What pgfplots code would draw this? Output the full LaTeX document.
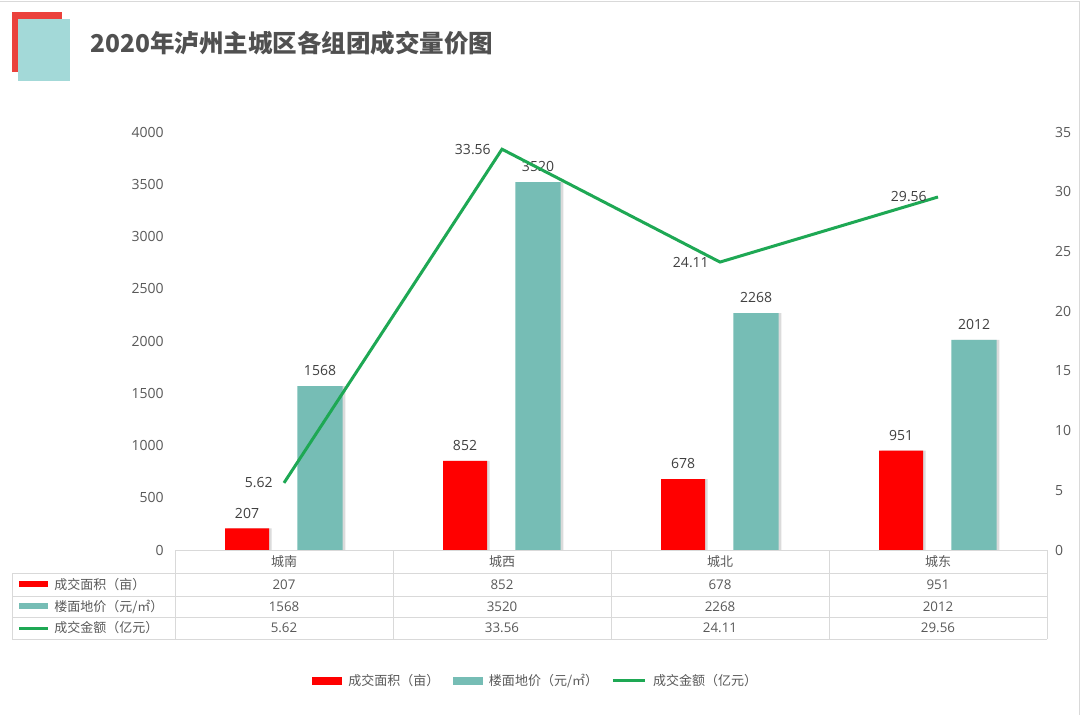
\documentclass[border=0pt]{standalone}
\usepackage{pgfplots}
\pgfplotsset{compat=1.18}
\usepackage{fontspec}
\setmainfont{Open Sans}
\newfontfamily\cjk{Noto Sans CJK SC}
\usetikzlibrary{shadows}
\definecolor{barred}{RGB}{255,0,0}
\definecolor{barteal}{RGB}{118,189,181}
\definecolor{linegreen}{RGB}{30,168,84}
\definecolor{txt}{RGB}{89,89,89}
\definecolor{lbl}{RGB}{64,64,64}
\definecolor{gridc}{RGB}{217,217,217}
\definecolor{decred}{RGB}{235,65,60}
\definecolor{decteal}{RGB}{163,217,216}
\definecolor{titlec}{RGB}{80,80,80}
\pgfplotsset{/pgf/number format/assume math mode=true, /pgf/number format/1000 sep={}}
\begin{document}
\begin{tikzpicture}[x=0.75pt,y=-0.75pt]
\path[use as bounding box, fill=white] (0,0) rectangle (1080,715);
\draw[gridc, line width=0.75pt] (0,1) -- (1079,1) -- (1079,715);
% decoration
\fill[decred] (12,12) rectangle (62,72);
\fill[decteal] (18,19) rectangle (70,81);
\node[anchor=west, text=titlec, font=\cjk\bfseries\fontsize{18.4}{21}\selectfont, inner sep=0pt] at (90,43) {2020年泸州主城区各组团成交量价图};

\begin{axis}[
 at={(131.25pt,-412.5pt)}, anchor=south west,
 scale only axis, width=654pt, height=313.5pt,
 xmin=-0.5, xmax=3.5, ymin=0, ymax=4000,
 xtick=\empty, ytick={0,500,...,4000},
 axis y line*=left, axis x line*=bottom, axis line style={draw=none},
 major tick length=0pt,
 yticklabel style={font=\fontsize{10.5}{12}\selectfont, text=txt, xshift=-5pt},
 clip=false,
 every node near coord/.append style={font=\fontsize{10.5}{12}\selectfont, text=lbl, yshift=4pt},
]
\addplot[ybar, bar width=33pt, bar shift=-27.75pt, fill=barred, draw=none,
  drop shadow={shadow xshift=2pt, shadow yshift=0pt, fill=black!40, opacity=0.35},
  nodes near coords, every node near coord/.append style={xshift=-27.75pt}] coordinates {(0,207) (1,852) (2,678) (3,951)};
\addplot[ybar, bar width=34pt, bar shift=27pt, fill=barteal, draw=none,
  drop shadow={shadow xshift=2pt, shadow yshift=0pt, fill=black!40, opacity=0.35},
  nodes near coords, every node near coord/.append style={xshift=27pt}] coordinates {(0,1568) (1,3520) (2,2268) (3,2012)};
\end{axis}

\begin{axis}[
 at={(131.25pt,-412.5pt)}, anchor=south west,
 scale only axis, width=654pt, height=313.5pt,
 xmin=-0.5, xmax=3.5, ymin=0, ymax=35,
 ytick={0,5,...,35},
 axis y line*=right, axis x line=none, axis line style={draw=none},
 major tick length=0pt,
 yticklabel style={font=\fontsize{10.5}{12}\selectfont, text=txt, xshift=2.5pt},
 clip=false,
 legend style={at={(0.414,-0.313)}, anchor=center, draw=none, fill=none,
   legend columns=-1, font=\cjk\fontsize{9.75}{11}\selectfont, text=txt,
   /tikz/every odd column/.append style={column sep=3pt},
   /tikz/every even column/.append style={column sep=8pt}},
]
\addlegendimage{legend image code/.code={\fill[barred] (0pt,-2.4pt) rectangle (21.75pt,2.4pt);}}
\addlegendentry{成交面积（亩）}
\addlegendimage{legend image code/.code={\fill[barteal] (0pt,-2.4pt) rectangle (21.75pt,2.4pt);}}
\addlegendentry{楼面地价（元/㎡）}
\addplot[linegreen, line width=2.25pt, mark=none, nodes near coords,
  every node near coord/.append style={anchor=east, xshift=-4pt, font=\fontsize{10.5}{12}\selectfont, text=lbl},
  legend image code/.code={\draw[linegreen, line width=2.25pt] (0pt,0pt) -- (24pt,0pt);}]
  coordinates {(0,5.62) (1,33.56) (2,24.11) (3,29.56)};
\addlegendentry{成交金额（亿元）}
\end{axis}

% data table
\begin{scope}[gridc, line width=0.75pt]
\draw (175,550) -- (1047,550);
\foreach \yy in {573,596,617,639} {\draw (12,\yy) -- (1047,\yy);}
\draw (12,573) -- (12,639);
\foreach \xx in {175,393,611,829,1047} {\draw (\xx,550) -- (\xx,639);}
\end{scope}
\begin{scope}[every node/.style={text=txt, font=\cjk\fontsize{9.75}{11}\selectfont, inner sep=0pt}]
\node at (284,561.5) {城南};
\node at (502,561.5) {城西};
\node at (720,561.5) {城北};
\node at (938,561.5) {城东};
\fill[barred] (19,581) rectangle (48,587);
\fill[barteal] (19,603) rectangle (48,609);
\draw[linegreen, line width=2.25pt] (19,628) -- (48,628);
\node[anchor=west] at (54,584.5) {成交面积（亩）};
\node[anchor=west] at (54,606.5) {楼面地价（元/㎡）};
\node[anchor=west] at (54,628) {成交金额（亿元）};
\end{scope}
\begin{scope}[every node/.style={text=txt, font=\fontsize{10}{11}\selectfont, inner sep=0pt}]
\node at (284,584.5) {207};
\node at (502,584.5) {852};
\node at (720,584.5) {678};
\node at (938,584.5) {951};
\node at (284,606.5) {1568};
\node at (502,606.5) {3520};
\node at (720,606.5) {2268};
\node at (938,606.5) {2012};
\node at (284,628) {5.62};
\node at (502,628) {33.56};
\node at (720,628) {24.11};
\node at (938,628) {29.56};
\end{scope}
\end{tikzpicture}
\end{document}
